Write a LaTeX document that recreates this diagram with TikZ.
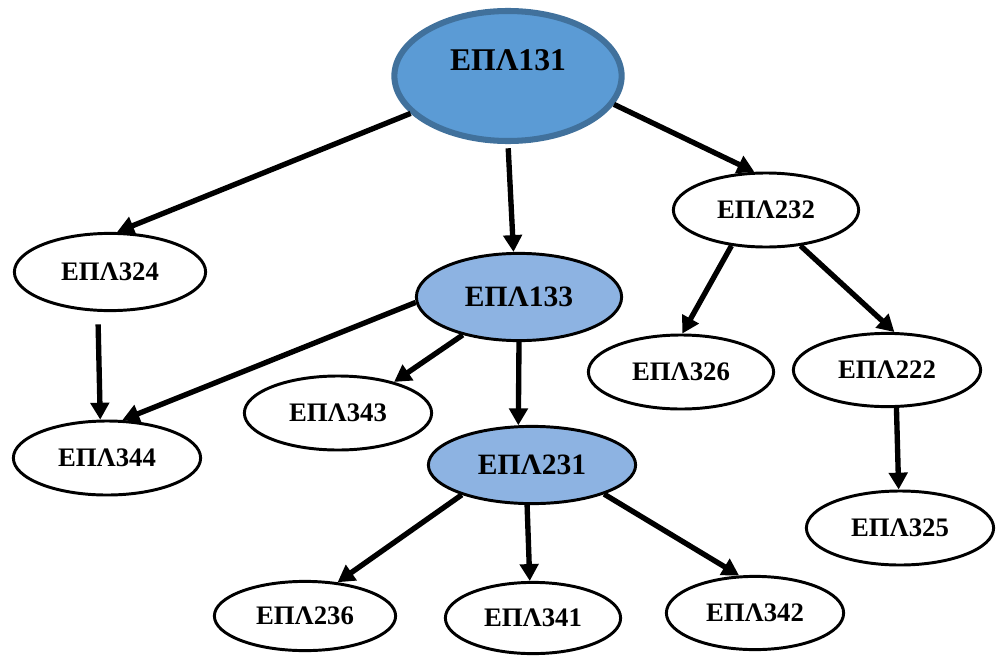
\documentclass[tikz,border=0pt]{standalone}
\usepackage{fontspec}
\setmainfont{Liberation Serif}
\usepackage{tikz}
\usetikzlibrary{arrows.meta,shapes.geometric}
\definecolor{rootblue}{HTML}{5B9BD5}
\definecolor{rootedge}{HTML}{41719C}
\definecolor{coreblue}{HTML}{8DB3E2}
\tikzset{
  rootbox/.style={ellipse,draw=rootedge,fill=rootblue,line width=4.3pt,inner sep=0pt,text height=16pt,text depth=24pt,font=\fontsize{22.5}{26}\selectfont\bfseries},
  corebox/.style={ellipse,draw=black,fill=coreblue,line width=2.1pt,inner sep=0pt,font=\fontsize{21}{24}\selectfont\bfseries},
  coursebox/.style={ellipse,draw=black,fill=white,line width=2.1pt,inner sep=0pt,font=\fontsize{19}{22}\selectfont\bfseries},
  arrow/.style={-{Triangle[length=12pt,width=13pt]},line width=3.8pt,draw=black}
}

\begin{document}
\begin{tikzpicture}[x=0.025cm,y=-0.025cm]
  \useasboundingbox (0,0) rectangle (997,657);

  \node[rootbox,minimum width=5.68cm,minimum height=3.25cm] (e131) at (508,76) {ΕΠΛ131};
  \node[corebox,minimum width=5.13cm,minimum height=2.18cm] (e133) at (519,297) {ΕΠΛ133};
  \node[corebox,minimum width=5.18cm,minimum height=1.93cm] (e231) at (532,465) {ΕΠΛ231};
  \node[coursebox,minimum width=4.63cm,minimum height=1.85cm] (e232) at (766,210) {ΕΠΛ232};
  \node[coursebox,minimum width=4.78cm,minimum height=1.93cm] (e324) at (110,272) {ΕΠΛ324};
  \node[coursebox,minimum width=4.68cm,minimum height=1.85cm] (e344) at (107,458) {ΕΠΛ344};
  \node[coursebox,minimum width=4.68cm,minimum height=1.85cm] (e343) at (338,413) {ΕΠΛ343};
  \node[coursebox,minimum width=4.63cm,minimum height=1.85cm] (e326) at (681,372) {ΕΠΛ326};
  \node[coursebox,minimum width=4.68cm,minimum height=1.83cm] (e222) at (887,370) {ΕΠΛ222};
  \node[coursebox,minimum width=4.68cm,minimum height=1.85cm] (e325) at (900,528) {ΕΠΛ325};
  \node[coursebox,minimum width=4.53cm,minimum height=1.73cm] (e236) at (305,616) {ΕΠΛ236};
  \node[coursebox,minimum width=4.38cm,minimum height=1.78cm] (e341) at (533,618) {ΕΠΛ341};
  \node[coursebox,minimum width=4.43cm,minimum height=1.83cm] (e342) at (755,613) {ΕΠΛ342};

  % from EPL131
  \draw[arrow] (e131.201) -- (e324.80);
  \draw[arrow,shorten <=3pt] (e131.south) -- (e133.97);
  \draw[arrow] (e131.-15) -- (e232.107);
  % from EPL133
  \draw[arrow] (e133.183) -- (e344.68);
  \draw[arrow] (e133.214) -- (e343.29);
  \draw[arrow] (e133.south) -- (e231.109);
  % left column
  \draw[arrow,shorten <=9pt] (e324.253) -- (e344.100);
  % from EPL232
  \draw[arrow] (e232.226) -- (e326.88);
  \draw[arrow] (e232.-46) -- (e222.79);
  \draw[arrow] (e222.-76) -- (e325.92);
  % from EPL231
  \draw[arrow] (e231.203) -- (e236.46);
  \draw[arrow] (e231.263) -- (e341.95);
  \draw[arrow] (e231.-22) -- (e342.113);
\end{tikzpicture}
\end{document}
